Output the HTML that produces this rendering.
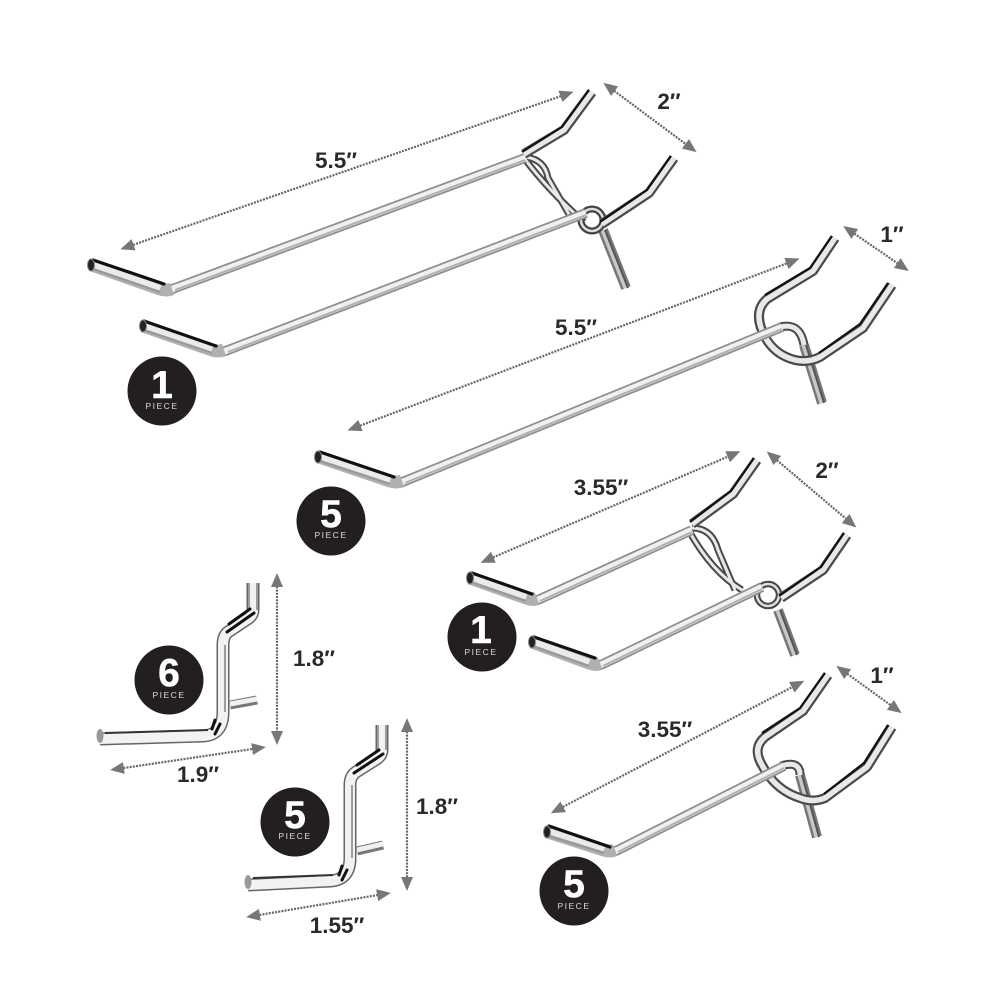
<!DOCTYPE html>
<html><head><meta charset="utf-8"><title>Pegboard hooks</title>
<style>
html,body{margin:0;padding:0;background:#fff}
svg{display:block}
.t{font:700 22.5px "Liberation Sans",sans-serif;fill:#2a2a2a;text-anchor:middle}
.n{font:700 39px "Liberation Sans",sans-serif;fill:#fff;text-anchor:middle;stroke:#fff;stroke-width:.5}
.p{font:400 8.5px "Liberation Sans",sans-serif;fill:#ddd;text-anchor:middle;letter-spacing:1.5px}
.d{fill:none;stroke:#666;stroke-width:2.2;stroke-dasharray:2 1.2;marker-start:url(#a);marker-end:url(#a)}
.w{fill:none;stroke-linecap:butt;stroke-linejoin:round}
.o{stroke:#8e8e8e;stroke-width:10}.i{stroke:#f0f0f0;stroke-width:6.5}.c{stroke:#b0b0b0;stroke-width:2}
.so{stroke:#777;stroke-width:10}.si{stroke:#c8c8c8;stroke-width:5}.sc{stroke:#555;stroke-width:2}
.ao{stroke:#4a4a4a;stroke-width:10}.ai{stroke:#e8e8e8;stroke-width:5.5}.ac{stroke:#111;stroke-width:2.2}
.to{stroke:#b0b0b0;stroke-width:13}.ti{stroke:#eaeaea;stroke-width:8}.tc{stroke:#999;stroke-width:2.5}
.k{fill:none;stroke:#111;stroke-width:3.2;stroke-linecap:round}
.e{fill:#222;stroke:#888;stroke-width:1}
</style></head><body>
<svg width="1000" height="1000" viewBox="0 0 1000 1000" xmlns="http://www.w3.org/2000/svg">
<defs>
<marker id="a" viewBox="0 0 14 12" refX="7" refY="6" markerUnits="userSpaceOnUse" markerWidth="14" markerHeight="12" orient="auto-start-reverse"><path d="M0 0L14 6L0 12Z" fill="#777"/></marker>
</defs>
<rect width="1000" height="1000" fill="#fff"/>

<!-- dimension lines -->
<path class="d" d="M127 247L567 94"/>
<path class="d" d="M609 87L691 148"/>
<path class="d" d="M354 428L793 261"/>
<path class="d" d="M849 230L903 267"/>
<path class="d" d="M487 560L734 454"/>
<path class="d" d="M772 456L851 523"/>
<path class="d" d="M277 580L277 738"/>
<path class="d" d="M117 769L259 748"/>
<path class="d" d="M407 725L407 884"/>
<path class="d" d="M253 916L384 894"/>
<path class="d" d="M557 810L798 684"/>
<path class="d" d="M842 670L896 709"/>

<!-- labels -->
<text class="t" x="336" y="168">5.5″</text>
<text class="t" x="669" y="109">2″</text>
<text class="t" x="576" y="335">5.5″</text>
<text class="t" x="892" y="242">1″</text>
<text class="t" x="601" y="495">3.55″</text>
<text class="t" x="827" y="478">2″</text>
<text class="t" x="314" y="666">1.8″</text>
<text class="t" x="198" y="782">1.9″</text>
<text class="t" x="437" y="814">1.8″</text>
<text class="t" x="337" y="933">1.55″</text>
<text class="t" x="665" y="737">3.55″</text>
<text class="t" x="882" y="683">1″</text>

<!-- Hook 1 : double 5.5 -->
<g class="w">
<path class="so" d="M603 230L626 288"/><path class="si" d="M603 230L626 288"/><path class="sc" d="M605 230L628 288"/>
<path class="ao" d="M524 158Q548 190 584 222M526 157Q545 160 548 178L570 216" style="stroke-width:7"/>
<path class="ai" d="M524 158Q548 190 584 222M526 157Q545 160 548 178L570 216" style="stroke-width:3"/>
<path class="ao" d="M524 154L564 130L592 92"/><path class="ai" d="M524 154L564 130L592 92"/><path class="ac" d="M522 152L562 127L589 90"/>
<circle cx="592" cy="220" r="11" fill="none" stroke="#444" stroke-width="7"/><circle cx="592" cy="220" r="11" fill="none" stroke="#ddd" stroke-width="2.5"/>
<path class="ao" d="M602 224L649 193L674 158"/><path class="ai" d="M602 224L649 193L674 158"/><path class="ac" d="M600 222L647 190L671 156"/>
<path class="o" d="M163 289Q168 291 175 288L525 158"/><path class="i" d="M163 289Q168 291 175 288L525 158"/><path class="c" d="M175 290L525 160"/>
<path class="to" d="M92 265L160 289Q166 291 172 289"/><path class="ti" d="M92 265L160 289"/><path class="tc" d="M90 268L160 292"/>
<path class="o" d="M216 351Q221 353 228 350L586 213"/><path class="i" d="M216 351Q221 353 228 350L586 213"/><path class="c" d="M228 352L586 215"/>
<path class="to" d="M143 326L212 350Q218 352 224 350"/><path class="ti" d="M143 326L212 350"/><path class="tc" d="M141 329L212 353"/>
</g>
<path class="k" d="M93 260L164 284"/><path class="k" d="M144 321L216 346"/>
<ellipse class="e" cx="91" cy="265" rx="3.5" ry="6"/><ellipse class="e" cx="143" cy="326" rx="3.5" ry="6"/>

<!-- Hook 2 : single 5.5 -->
<g class="w">
<path class="so" d="M804 345L822 403"/><path class="si" d="M804 345L822 403"/><path class="sc" d="M806 345L824 403"/>
<path class="ao" d="M835 238L813 271L767 299Q752 312 765 337Q775 355 795 360Q808 363 820 357L863 328L892 285"/>
<path class="ai" d="M835 238L813 271L767 299Q752 312 765 337Q775 355 795 360Q808 363 820 357L863 328L892 285"/>
<path class="ac" d="M832 236L810 268L765 295M819 353L860 324L888 283"/>
<path class="ao" d="M780 327Q800 322 804 345" style="stroke-width:9"/><path class="ai" d="M780 327Q800 322 804 345" style="stroke-width:5"/>
<path class="o" d="M392 482Q398 484 405 481L782 327"/><path class="i" d="M392 482Q398 484 405 481L782 327"/><path class="c" d="M405 483L782 329"/>
<path class="to" d="M319 457L390 481Q396 483 402 481"/><path class="ti" d="M319 457L390 481"/><path class="tc" d="M317 460L390 484"/>
</g>
<path class="k" d="M320 452L394 477"/><ellipse class="e" cx="318" cy="457" rx="3.5" ry="6"/>

<!-- Hook 3 : double 3.55 -->
<g class="w">
<path class="so" d="M778 610L795 655"/><path class="si" d="M778 610L795 655"/><path class="sc" d="M780 610L797 655"/>
<path class="ao" d="M689 531Q712 572 742 590M692 528Q712 528 718 550L735 590" style="stroke-width:7"/>
<path class="ai" d="M689 531Q712 572 742 590M692 528Q712 528 718 550L735 590" style="stroke-width:3"/>
<path class="ao" d="M692 524L733 494L757 460"/><path class="ai" d="M692 524L733 494L757 460"/><path class="ac" d="M690 522L731 491L754 458"/>
<circle cx="768" cy="595" r="11" fill="none" stroke="#444" stroke-width="6.5"/><circle cx="768" cy="595" r="11" fill="none" stroke="#ddd" stroke-width="2.5"/>
<path class="ao" d="M781 598L823 570L847 535"/><path class="ai" d="M781 598L823 570L847 535"/><path class="ac" d="M779 596L821 567L844 533"/>
<path class="o" d="M528 600Q533 602 540 599L692 530"/><path class="i" d="M528 600Q533 602 540 599L692 530"/><path class="c" d="M540 601L692 532"/>
<path class="to" d="M470 578L526 598Q532 600 537 598"/><path class="ti" d="M470 578L526 598"/><path class="tc" d="M468 581L526 601"/>
<path class="o" d="M591 665Q596 667 603 664L762 587"/><path class="i" d="M591 665Q596 667 603 664L762 587"/><path class="c" d="M603 666L762 589"/>
<path class="to" d="M532 642L589 663Q595 665 600 663"/><path class="ti" d="M532 642L589 663"/><path class="tc" d="M530 645L589 666"/>
</g>
<path class="k" d="M472 573L532 594"/><path class="k" d="M534 637L595 658"/>
<ellipse class="e" cx="470" cy="578" rx="3.5" ry="6"/><ellipse class="e" cx="532" cy="642" rx="3.5" ry="6"/>

<!-- Hook 4 : single 3.55 -->
<g class="w">
<path class="so" d="M800 775L817 837"/><path class="si" d="M800 775L817 837"/><path class="sc" d="M802 775L819 837"/>
<path class="ao" d="M828 675L803 711L765 737Q752 748 762 765Q775 790 800 798Q813 803 825 798L867 767L892 727"/>
<path class="ai" d="M828 675L803 711L765 737Q752 748 762 765Q775 790 800 798Q813 803 825 798L867 767L892 727"/>
<path class="ac" d="M825 673L800 708L762 733M824 794L864 763L888 725"/>
<path class="ao" d="M781 766Q800 760 800 775" style="stroke-width:9"/><path class="ai" d="M781 766Q800 760 800 775" style="stroke-width:5"/>
<path class="o" d="M606 851Q611 853 618 850L784 766"/><path class="i" d="M606 851Q611 853 618 850L784 766"/><path class="c" d="M618 852L784 768"/>
<path class="to" d="M548 832L604 850Q610 852 615 850"/><path class="ti" d="M548 832L604 850"/><path class="tc" d="M546 835L604 853"/>
</g>
<path class="k" d="M549 826L610 847"/><ellipse class="e" cx="547" cy="832" rx="3.5" ry="6"/>

<!-- Small hook A -->
<g class="w">
<path class="so" d="M230 705L257 700" style="stroke-width:9"/><path class="i" d="M230 704L257 699" style="stroke-width:5"/>
<path class="ao" d="M253 583L253 610Q253 616 246 620L228 632Q223 636 223 645L223 712Q223 735 203 736L100 739" style="stroke-width:13;stroke:#666"/>
<path class="ai" d="M253 583L253 610Q253 616 246 620L228 632Q223 636 223 645L223 712Q223 735 203 736L100 739" style="stroke-width:10;stroke:#f2f2f2"/>
<path d="M249 583V610M257 583V610M225 645V712" stroke="#888" stroke-width="1.6"/>
<path class="k" d="M250 609L229 624M254 613L227 632M215 720L212 729M220 724L215 734" style="stroke-width:3"/>
<path d="M105 733L208 730" stroke="#333" stroke-width="2"/>
</g>
<ellipse cx="100" cy="736" rx="3.5" ry="7" fill="#999"/>

<!-- Small hook B -->
<g class="w">
<path class="so" d="M357 851L383 845" style="stroke-width:9"/><path class="i" d="M357 850L383 844" style="stroke-width:5"/>
<path class="ao" d="M382 725L382 750Q382 756 375 760L356 772Q350 776 350 785L350 858Q350 880 330 881L248 885" style="stroke-width:13;stroke:#666"/>
<path class="ai" d="M382 725L382 750Q382 756 375 760L356 772Q350 776 350 785L350 858Q350 880 330 881L248 885" style="stroke-width:10;stroke:#f2f2f2"/>
<path d="M378 725V750M386 725V750M352 785V858" stroke="#888" stroke-width="1.6"/>
<path class="k" d="M379 750L357 765M383 754L354 773M342 866L339 875M347 870L342 880" style="stroke-width:3"/>
<path d="M253 878L333 875" stroke="#333" stroke-width="2"/>
</g>
<ellipse cx="248" cy="882" rx="3.5" ry="7" fill="#999"/>

<!-- Badges -->
<circle cx="162" cy="391" r="34.5" fill="#231f20"/><text class="n" x="162" y="398">1</text><text class="p" x="162" y="409">PIECE</text>
<circle cx="331" cy="521" r="34.5" fill="#231f20"/><text class="n" x="331" y="527">5</text><text class="p" x="331" y="538">PIECE</text>
<circle cx="482" cy="637" r="34.5" fill="#231f20"/><text class="n" x="481" y="643">1</text><text class="p" x="481" y="655">PIECE</text>
<circle cx="169" cy="680" r="34.5" fill="#231f20"/><text class="n" x="169" y="686">6</text><text class="p" x="169" y="698">PIECE</text>
<circle cx="295" cy="822" r="34.5" fill="#231f20"/><text class="n" x="295" y="828">5</text><text class="p" x="295" y="839">PIECE</text>
<circle cx="574" cy="891" r="34.5" fill="#231f20"/><text class="n" x="574" y="897">5</text><text class="p" x="574" y="909">PIECE</text>
</svg>
</body></html>
